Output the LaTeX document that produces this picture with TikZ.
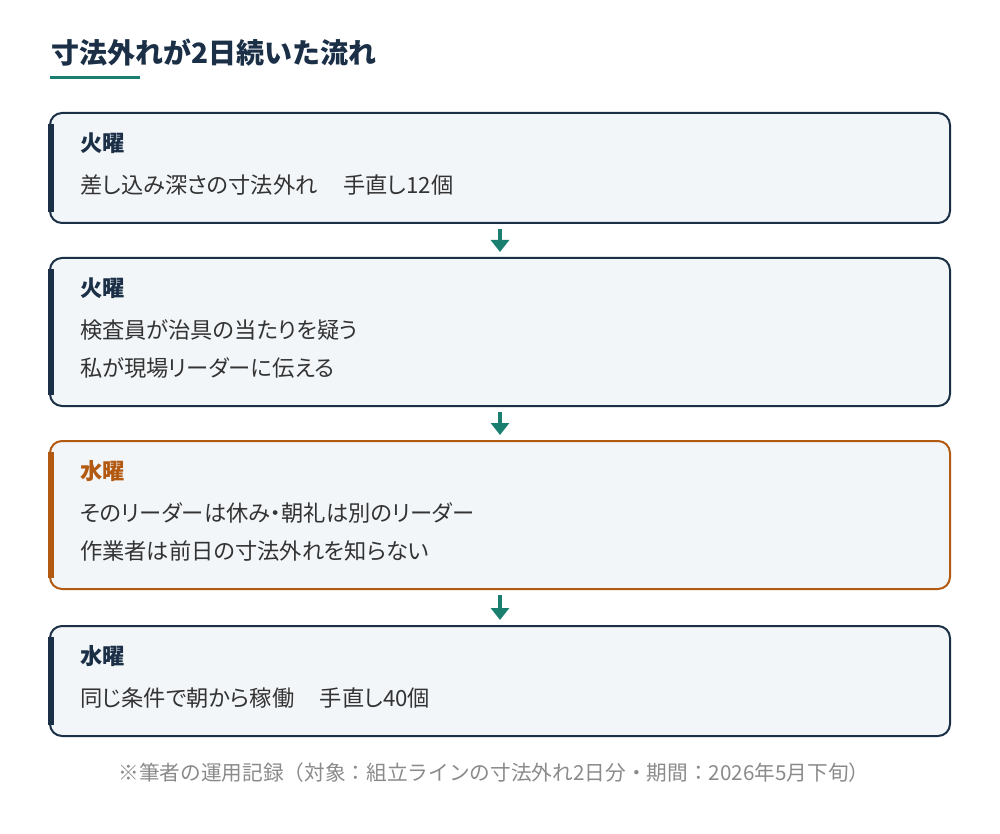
\documentclass[tikz,border=0pt]{standalone}
\usepackage{fontspec}
\setmainfont{Noto Sans CJK JP}
\newfontfamily\jpprop{Noto Sans CJK JP}[RawFeature=+palt]
\usetikzlibrary{positioning,arrows.meta}
\definecolor{navy}{HTML}{1B3047}
\definecolor{flowteal}{HTML}{1A7F6E}
\definecolor{rust}{HTML}{B35A12}
\definecolor{cardfill}{HTML}{F3F6F9}
\definecolor{bodytext}{HTML}{333333}
\definecolor{notegray}{HTML}{8A8A8A}
\begin{document}
\begin{tikzpicture}[x=0.75pt, y=0.75pt, node distance=24.75pt,
    card/.style = {draw=navy, line width=1.5pt, fill=cardfill, rounded corners=9pt,
                   text width=630pt, inner xsep=22.5pt, inner ysep=0pt, align=left,
                   text=bodytext, font=\jpprop\fontsize{16.7}{28.5}\selectfont},
    warn/.style = {card, draw=rust},
    bar/.style = {line width=4.5pt, navy},
    flow/.style = {draw=flowteal, line width=2.4pt, shorten <=3.75pt, shorten >=3.75pt,
                   -{Triangle[width=13.5pt, length=9pt]}}]
    \useasboundingbox (0,0) rectangle (1000,-834);

    % title
    \node[anchor=base west, inner sep=0pt, text=navy, font=\fontsize{21}{25}\selectfont\bfseries] (title) at (51,-64) {寸法外れが2日続いた流れ};
    \draw[flowteal, line width=2.25pt] (50,-78) -- (140,-78);

    % cards
    \node[card, anchor=north, minimum height=82.5pt] (tue1) at (500,-112)
        {\textcolor{navy}{\bfseries 火曜}\\[3pt]差し込み深さの寸法外れ\hspace{19pt}手直し12個\par\vspace{6pt}};
    \node[card, minimum height=111pt] (tue2) [below=of tue1]
        {\textcolor{navy}{\bfseries 火曜}\\[3pt]検査員が治具の当たりを疑う\\私が現場リーダーに伝える\par\vspace{6pt}};
    \node[warn, minimum height=111pt] (wed1) [below=of tue2]
        {\textcolor{rust}{\bfseries 水曜}\\[3pt]そのリーダーは休み・朝礼は別のリーダー\\作業者は前日の寸法外れを知らない\par\vspace{6pt}};
    \node[card, minimum height=82.5pt] (wed2) [below=26.25pt of wed1]
        {\textcolor{navy}{\bfseries 水曜}\\[3pt]同じ条件で朝から稼働\hspace{19pt}手直し40個\par\vspace{6pt}};

    % left bars
    \draw[bar] ([xshift=1.5pt, yshift=-9pt]tue1.north west) -- ([xshift=1.5pt, yshift=9pt]tue1.south west);
    \draw[bar] ([xshift=1.5pt, yshift=-9pt]tue2.north west) -- ([xshift=1.5pt, yshift=9pt]tue2.south west);
    \draw[bar, rust] ([xshift=1.5pt, yshift=-9pt]wed1.north west) -- ([xshift=1.5pt, yshift=9pt]wed1.south west);
    \draw[bar] ([xshift=1.5pt, yshift=-9pt]wed2.north west) -- ([xshift=1.5pt, yshift=9pt]wed2.south west);

    \draw[flow] (tue1.south) -- (tue2.north);
    \draw[flow] (tue2.south) -- (wed1.north);
    \draw[flow] (wed1.south) -- (wed2.north);

    \node[text=notegray, font=\fontsize{15.5}{18}\selectfont] (note) at (494,-773) {※筆者の運用記録（対象：組立ラインの寸法外れ2日分・期間：2026年5月下旬）};
\end{tikzpicture}
\end{document}
